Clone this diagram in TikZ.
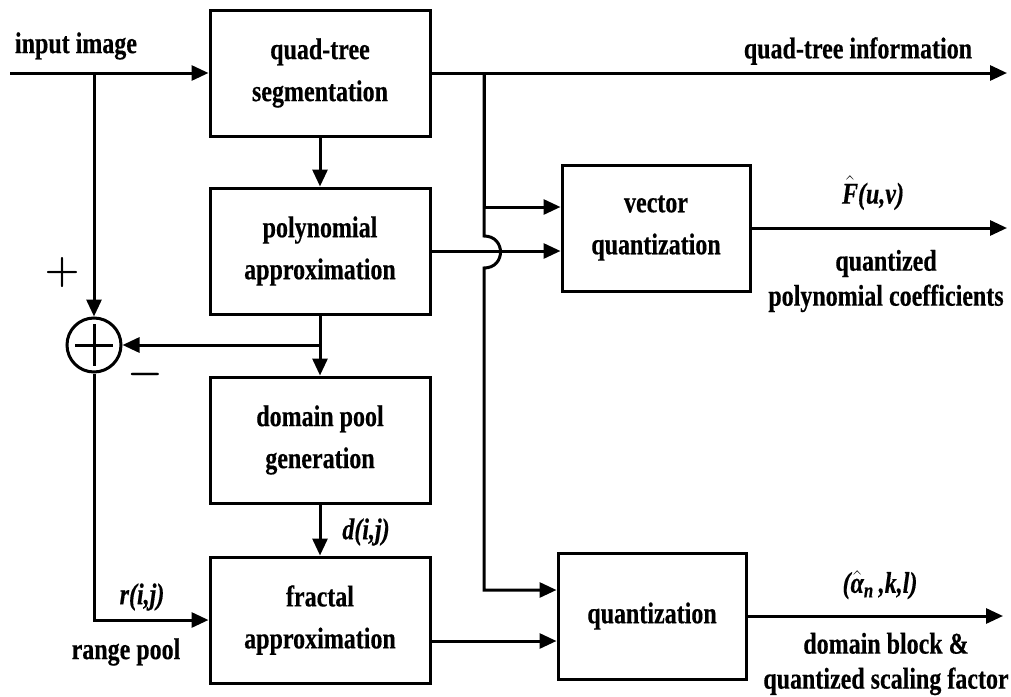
\RequirePackage{fix-cm}
\documentclass[tikz,border=0pt]{standalone}
\usepackage{amsmath}
\usepackage{fontspec}
\setmainfont{Liberation Serif}[FakeStretch=0.8, FakeBold=0.4]
\usetikzlibrary{arrows.meta,positioning,calc}
\tikzset{
  block/.style={rectangle, draw, line width=3pt, minimum width=220pt, minimum height=126pt,
                align=center, inner sep=0pt},
  qblock/.style={block, minimum width=188pt},
  arrow/.style={-{Triangle[length=17pt,width=15pt]}, line width=3pt},
  lbl/.style={font=\fontsize{30}{40}\selectfont\bfseries\itshape},
  twoline/.style={align=center, font=\fontsize{30}{35}\selectfont\bfseries},
  sumnode/.style={circle, draw, line width=3pt, minimum size=54pt, inner sep=0pt,
    path picture={\draw[line width=3pt]
      ($(path picture bounding box.center)+(-19,0)$) -- ($(path picture bounding box.center)+(19,0)$)
      ($(path picture bounding box.center)+(0,-21)$) -- ($(path picture bounding box.center)+(0,21)$);}},
}
\begin{document}
\begin{tikzpicture}[x=1pt, y=-1pt, font=\fontsize{30}{42}\selectfont\bfseries]
\useasboundingbox (0,0) rectangle (1011,696);
% blocks
\node[block] (qt) at (320,73) {quad-tree\\segmentation};
\node[block] (poly) at (320,251) {polynomial\\approximation};
\node[block] (dom) at (320,440) {domain pool\\generation};
\node[block] (frac) at (320,620) {fractal\\approximation};
\node[qblock] (vq) at (656,228) {vector\\quantization};
\node[qblock] (qz) at (652,616) {quantization};
\node[sumnode] (sum) at (94,345) {};
% free ends and branch points
\coordinate (in) at (10,73);
\coordinate (inbr) at (94,73);
\coordinate (br) at (484,73);
\coordinate (jt) at (484,236);
\coordinate (jb) at (484,268);
\coordinate (qtout) at (1007,73);
\coordinate (qzout) at (1003,616);
% connectors
\draw[arrow] (in) -- (qt.west);
\draw[arrow] (inbr) -- (sum.north);
\draw[arrow] (sum.south) |- (frac.west);
\draw[arrow] (qt) -- (poly);
\draw[arrow] (poly) -- (dom);
\draw[arrow] (poly.south |- sum.east) -- (sum.east);
\draw[arrow] (dom) -- (frac);
\draw[arrow] (qt.east) -- (qtout);
\draw[arrow] (br) |- ($(vq.west)+(0,-21)$);
\draw[arrow] (br) -- (jt) .. controls +(22,0) and +(22,0) .. (jb) |- ($(qz.west)+(0,-26)$);
\draw[arrow] (poly.east) -- (poly.east -| vq.west);
\draw[arrow] (vq.east) -- (vq.east -| qtout);
\draw[arrow] ($(frac.east)+(0,21)$) -- ($(qz.west)+(0,25)$);
\draw[arrow] (qz.east) -- (qz.east -| qzout);
% labels
\node (inlab) at (76,46) {input image};
\node (qtlab) at (858,51) {quad-tree information};
\node[lbl] (flab) at (873,193) {$\hat{\textbf{\textit{F}}}$(u,v)};
\node[twoline] (vqlab) at (886,281) {quantized\\polynomial coefficients};
\node[lbl] (alab) at (880,585) {($\hat{\textbf{\textit{α}}}_{\textbf{\textit{n}}}$\,,k,l)};
\node[twoline] (qzlab) at (886,664) {domain block \&\\quantized scaling factor};
\node[lbl] (dlab) at (366,532) {d(i,j)};
\node[lbl] (rlab) at (142,597) {r(i,j)};
\node (rplab) at (126,652) {range pool};
\node (plus) at (62,272) {\fontsize{40}{40}\selectfont$\boldsymbol{+}$};
\node (minus) at (145,374) {\fontsize{40}{40}\selectfont$\boldsymbol{-}$};
\end{tikzpicture}
\end{document}
